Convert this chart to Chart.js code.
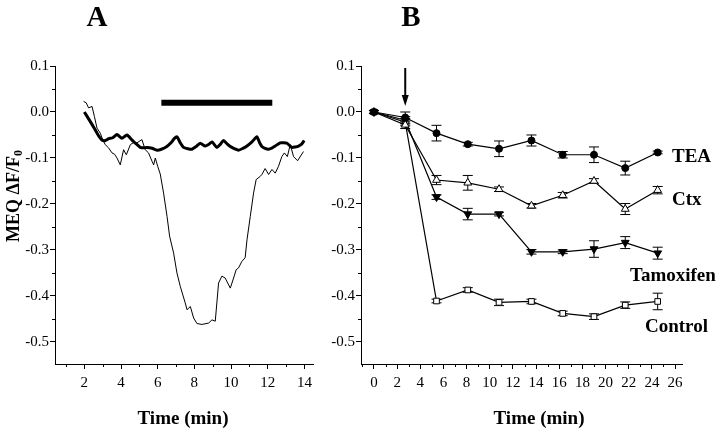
<!DOCTYPE html>
<html><head><meta charset="utf-8">
<script src="https://cdn.jsdelivr.net/npm/chart.js@4.4.0/dist/chart.umd.min.js"></script>
<style>
html,body{margin:0;padding:0;background:#fff;width:720px;height:434px;overflow:hidden}
#a{position:absolute;left:0;top:0}
#b{position:absolute;left:320px;top:0}
</style></head><body>
<canvas id="a" width="320" height="434"></canvas>
<canvas id="b" width="400" height="434"></canvas>
<script>
// ---------- Panel A data ----------
const thickT = [2.0,2.25,2.51,2.75,2.96,3.15,3.33,3.55,3.78,4.05,4.32,4.6,4.85,5.05,5.25,5.42,5.7,5.96,6.2,6.5,6.75,6.9,7.05,7.22,7.41,7.65,7.87,8.1,8.32,8.59,8.8,8.96,9.23,9.42,9.59,9.8,9.96,10.2,10.41,10.65,10.87,11.14,11.41,11.55,11.68,11.85,12.04,12.25,12.41,12.68,12.85,13.05,13.32,13.5,13.68,13.85,13.99];
const thickY = [0.0,-0.016,-0.033,-0.05,-0.061,-0.062,-0.058,-0.056,-0.049,-0.057,-0.05,-0.061,-0.07,-0.077,-0.078,-0.077,-0.079,-0.083,-0.081,-0.075,-0.066,-0.058,-0.054,-0.066,-0.077,-0.08,-0.081,-0.075,-0.068,-0.074,-0.07,-0.065,-0.077,-0.07,-0.062,-0.07,-0.075,-0.08,-0.083,-0.079,-0.074,-0.065,-0.054,-0.066,-0.075,-0.079,-0.081,-0.078,-0.074,-0.067,-0.067,-0.068,-0.077,-0.076,-0.074,-0.07,-0.062];
const thinT = [1.96,2.1,2.23,2.42,2.55,2.69,2.87,3.0,3.14,3.32,3.51,3.65,3.78,3.96,4.14,4.29,4.51,4.7,4.87,5.14,5.32,5.5,5.69,5.78,5.87,6.0,6.14,6.32,6.51,6.65,6.87,7.05,7.23,7.5,7.6,7.78,7.96,8.14,8.41,8.78,8.96,9.14,9.32,9.5,9.68,9.96,10.14,10.28,10.41,10.59,10.77,10.87,11.05,11.23,11.37,11.59,11.68,11.86,12.05,12.23,12.41,12.59,12.77,12.91,13.07,13.23,13.41,13.63,13.95];
const thinY = [0.023,0.02,0.009,0.012,-0.01,-0.035,-0.046,-0.06,-0.071,-0.078,-0.089,-0.092,-0.1,-0.115,-0.082,-0.093,-0.071,-0.066,-0.067,-0.06,-0.082,-0.089,-0.107,-0.115,-0.1,-0.118,-0.135,-0.176,-0.227,-0.27,-0.307,-0.35,-0.379,-0.415,-0.43,-0.423,-0.448,-0.46,-0.462,-0.459,-0.452,-0.455,-0.372,-0.357,-0.361,-0.383,-0.361,-0.343,-0.339,-0.325,-0.317,-0.278,-0.227,-0.176,-0.147,-0.14,-0.136,-0.123,-0.136,-0.125,-0.133,-0.118,-0.097,-0.089,-0.097,-0.071,-0.097,-0.106,-0.086];
const barT = [6.2, 12.25];
const barY = [0.02, 0.02];

// ---------- Panel B data ----------
const timeB = [0, 2.7, 5.4, 8.1, 10.8, 13.6, 16.3, 19.0, 21.7, 24.5];
const teaY  = [0, -0.012, -0.046, -0.070, -0.080, -0.062, -0.093, -0.093, -0.122, -0.088];
const teaE  = [0.003, 0.012, 0.017, 0.004, 0.017, 0.012, 0.007, 0.017, 0.015, 0.003];
const ctxY  = [0, -0.028, -0.148, -0.154, -0.168, -0.204, -0.181, -0.150, -0.211, -0.170];
const ctxE  = [0.003, 0.008, 0.010, 0.016, 0.005, 0.005, 0.006, 0.005, 0.012, 0.008];
const tamY  = [0, -0.018, -0.185, -0.222, -0.222, -0.304, -0.304, -0.298, -0.284, -0.307];
const tamE  = [0.003, 0.008, 0.005, 0.0125, 0.004, 0.005, 0.004, 0.018, 0.013, 0.013];
const conY  = [0, -0.022, -0.411, -0.387, -0.414, -0.412, -0.438, -0.445, -0.420, -0.412];
const conE  = [0.003, 0.008, 0.004, 0.005, 0.007, 0.005, 0.005, 0.006, 0.007, 0.018];
const seriesNames = ['TEA', 'Ctx', 'Tamoxifen', 'Control'];
const arrowTime = 2.7;

// ---------- Axis ticks ----------
const yTickVals = [0.1, 0.0, -0.1, -0.2, -0.3, -0.4, -0.5];
const yTickLabels = ['0.1', '0.0', '-0.1', '-0.2', '-0.3', '-0.4', '-0.5'];
const xTickValsA = [2, 4, 6, 8, 10, 12, 14];
const xTickLabelsA = ['2', '4', '6', '8', '10', '12', '14'];
const xTickValsB = [0, 2, 4, 6, 8, 10, 12, 14, 16, 18, 20, 22, 24, 26];
const xTickLabelsB = ['0', '2', '4', '6', '8', '10', '12', '14', '16', '18', '20', '22', '24', '26'];

const FONT = "'Liberation Serif','Times New Roman',serif";

function pairs(xs, ys) { return xs.map((x, i) => ({ x: x, y: ys[i] })); }
function labelOf(vals, labels, v) {
  const i = vals.findIndex(t => Math.abs(t - v) < 1e-6);
  return i >= 0 ? labels[i] : '';
}
function withMinors(vals) {
  const out = [];
  for (let i = 0; i < vals.length; i++) {
    out.push(vals[i]);
    if (i < vals.length - 1) out.push((vals[i] + vals[i + 1]) / 2);
  }
  return out;
}

function xScale(min, max, vals, labels, fs) {
  let all = withMinors(vals);
  // include minor just before first major if inside range
  const step = (vals[1] - vals[0]) / 2;
  if (vals[0] - step >= min) all.unshift(vals[0] - step);
  if (vals[vals.length - 1] + step <= max) all.push(vals[vals.length - 1] + step);
  return {
    type: 'linear', min: min, max: max,
    afterBuildTicks: s => { s.ticks = all.map(v => ({ value: v })); },
    afterFit: s => { s.height = 70; },
    grid: { display: true, drawOnChartArea: false, drawTicks: true, tickLength: 5,
      tickColor: c => (c.tick && c.tick.label) ? '#000' : 'rgba(0,0,0,0)', tickWidth: 1 },
    border: { display: true, color: '#000', width: 1 },
    ticks: { autoSkip: false, maxRotation: 0, minRotation: 0, padding: 5, color: '#000',
      font: { family: FONT, size: fs }, callback: v => labelOf(vals, labels, v) }
  };
}
function yScale(w, fs) {
  const all = withMinors(yTickVals);
  return {
    type: 'linear', min: -0.548, max: 0.1,
    afterBuildTicks: s => { s.ticks = all.map(v => ({ value: v })); },
    afterFit: s => { s.width = w; },
    grid: { display: true, drawOnChartArea: false, drawTicks: true, tickLength: 5,
      tickColor: c => (c.tick && c.tick.label) ? '#000' : 'rgba(0,0,0,0)', tickWidth: 1 },
    border: { display: true, color: '#000', width: 1 },
    ticks: { autoSkip: false, padding: 1, color: '#000',
      font: { family: FONT, size: fs }, callback: v => labelOf(yTickVals, yTickLabels, v) }
  };
}
function drawMinorTicks(chart) {
  const { ctx, scales: { x, y } } = chart;
  ctx.save();
  ctx.strokeStyle = '#000'; ctx.lineWidth = 1;
  x.ticks.forEach(t => {
    if (t.label) return;
    const px = Math.round(x.getPixelForValue(t.value)) + 0.5;
    ctx.beginPath(); ctx.moveTo(px, x.top); ctx.lineTo(px, x.top + 3); ctx.stroke();
  });
  y.ticks.forEach(t => {
    if (t.label) return;
    const py = Math.round(y.getPixelForValue(t.value)) + 0.5;
    ctx.beginPath(); ctx.moveTo(y.right, py); ctx.lineTo(y.right - 3, py); ctx.stroke();
  });
  ctx.restore();
}

// ---------- Panel A ----------
const annA = {
  id: 'annA',
  afterDraw(chart) {
    drawMinorTicks(chart);
    const ctx = chart.ctx;
    ctx.save();
    ctx.fillStyle = '#000';
    ctx.textAlign = 'center'; ctx.textBaseline = 'middle';
    ctx.font = "bold 29px " + FONT;
    ctx.fillText('A', 97, 19);
    ctx.font = "bold 19px " + FONT;
    ctx.fillText('Time (min)', 183, 419);
    // y title rotated
    ctx.translate(14, 196);
    ctx.rotate(-Math.PI / 2);
    ctx.font = "bold 18px " + FONT;
    const main = 'MEQ ΔF/F';
    const w = ctx.measureText(main).width;
    ctx.font = "bold 12px " + FONT;
    const ws = ctx.measureText('0').width;
    const total = w + ws;
    ctx.textAlign = 'left';
    ctx.font = "bold 18px " + FONT;
    ctx.fillText(main, -total / 2, 0);
    ctx.font = "bold 12px " + FONT;
    ctx.fillText('0', -total / 2 + w, 5);
    ctx.restore();
  }
};

new Chart(document.getElementById('a'), {
  type: 'line',
  data: {
    datasets: [
      { data: pairs(thinT, thinY), borderColor: '#000', borderWidth: 1, pointRadius: 0, tension: 0 },
      { data: pairs(thickT, thickY), borderColor: '#000', borderWidth: 3, pointRadius: 0, tension: 0.2 },
      { data: pairs(barT, barY), borderColor: '#000', borderWidth: 6, borderCapStyle: 'butt', pointRadius: 0 }
    ]
  },
  options: {
    responsive: false, animation: false, devicePixelRatio: 1,
    layout: { padding: { left: 0, right: 7, top: 66, bottom: 0 } },
    plugins: { legend: { display: false }, tooltip: { enabled: false } },
    scales: { x: xScale(0.4, 14.47, xTickValsA, xTickLabelsA, 15), y: yScale(55, 15) }
  },
  plugins: [annA]
});

// ---------- Panel B ----------
const errs = [teaE, ctxE, tamE, conE];
const annB = {
  id: 'annB',
  beforeDatasetsDraw(chart) {
    const { ctx, scales: { x, y } } = chart;
    ctx.save();
    ctx.strokeStyle = '#000'; ctx.lineWidth = 1;
    chart.data.datasets.forEach((ds, i) => {
      ds.data.forEach((p, j) => {
        const e = errs[i][j];
        const px = x.getPixelForValue(p.x);
        const t = y.getPixelForValue(p.y + e), b = y.getPixelForValue(p.y - e);
        ctx.beginPath();
        ctx.moveTo(px, t); ctx.lineTo(px, b);
        ctx.moveTo(px - 5, t); ctx.lineTo(px + 5, t);
        ctx.moveTo(px - 5, b); ctx.lineTo(px + 5, b);
        ctx.stroke();
      });
    });
    ctx.restore();
  },
  afterDraw(chart) {
    drawMinorTicks(chart);
    const { ctx, scales: { x } } = chart;
    ctx.save();
    ctx.fillStyle = '#000'; ctx.strokeStyle = '#000';
    ctx.textAlign = 'center'; ctx.textBaseline = 'middle';
    ctx.font = "bold 29px " + FONT;
    ctx.fillText('B', 91, 19);
    ctx.font = "bold 19px " + FONT;
    ctx.fillText('Time (min)', 219, 419);
    ctx.textAlign = 'left';
    ctx.font = "bold 19px " + FONT;
    ctx.fillText(seriesNames[0], 352, 157);
    ctx.fillText(seriesNames[1], 352, 200);
    ctx.fillText(seriesNames[2], 310, 276);
    ctx.fillText(seriesNames[3], 325, 327);
    // arrow
    const ax = x.getPixelForValue(arrowTime);
    ctx.lineWidth = 2;
    ctx.beginPath(); ctx.moveTo(ax, 68); ctx.lineTo(ax, 97); ctx.stroke();
    ctx.beginPath(); ctx.moveTo(ax - 3.5, 95); ctx.lineTo(ax + 3.5, 95); ctx.lineTo(ax, 106); ctx.closePath(); ctx.fill();
    ctx.restore();
  }
};

function seriesB(ys, style, fill, rot, r) {
  return { data: pairs(timeB, ys), borderColor: '#000', borderWidth: 1.2, tension: 0,
    pointStyle: style, pointRotation: rot, pointRadius: r, pointBackgroundColor: fill,
    pointBorderColor: '#000', pointBorderWidth: 1 };
}

new Chart(document.getElementById('b'), {
  type: 'line',
  data: {
    datasets: [
      seriesB(teaY, 'circle', '#000', 0, 3.5),
      seriesB(ctxY, 'triangle', '#fff', 0, 4.5),
      seriesB(tamY, 'triangle', '#000', 180, 4.5),
      seriesB(conY, 'rect', '#fff', 0, 4)
    ]
  },
  options: {
    responsive: false, animation: false, devicePixelRatio: 1,
    layout: { padding: { left: 0, right: 38, top: 66, bottom: 0 } },
    plugins: { legend: { display: false }, tooltip: { enabled: false } },
    scales: { x: xScale(-1.12, 26.6, xTickValsB, xTickLabelsB, 15), y: yScale(41, 15) }
  },
  plugins: [annB]
});
</script>
</body></html>
